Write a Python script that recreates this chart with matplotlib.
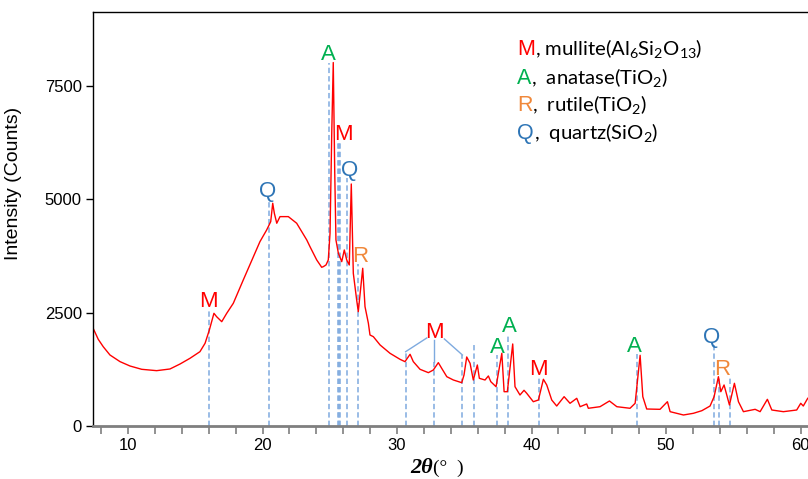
import matplotlib
matplotlib.use("Agg")
import matplotlib.pyplot as plt
from matplotlib.ticker import MultipleLocator

plt.rcParams['font.family'] = ['Liberation Sans', 'DejaVu Sans']
plt.rcParams['mathtext.fontset'] = 'custom'
plt.rcParams['mathtext.rm'] = 'Lato'
plt.rcParams['mathtext.it'] = 'Lato:italic'
plt.rcParams['mathtext.bf'] = 'Lato:bold'

# XRD pattern (2theta in degrees, intensity in counts)
two_theta = [7.41, 7.79, 8.16, 8.66, 9.41, 10.15, 11.02, 12.13, 13.12, 13.87,
             14.61, 15.35, 15.73, 16.05, 16.39, 16.59, 16.97, 17.34, 17.83, 18.57,
             19.32, 19.81, 20.31, 20.61, 20.76, 20.88, 21.06, 21.30, 21.92, 22.54,
             23.29, 23.53, 24.03, 24.40, 24.52, 24.72, 24.89, 25.02, 25.15, 25.26,
             25.37, 25.46, 25.64, 25.89, 26.08, 26.26, 26.45, 26.60, 26.75, 27.00,
             27.12, 27.32, 27.45, 27.62, 27.87, 27.99, 28.24, 28.74, 29.48, 30.22,
             30.59, 30.97, 31.21, 31.71, 32.33, 32.70, 33.07, 33.32, 33.70, 34.19,
             34.81, 34.98, 35.18, 35.43, 35.67, 35.87, 35.97, 36.12, 36.54, 36.79,
             36.97, 37.36, 37.79, 37.96, 38.20, 38.60, 38.77, 39.14, 39.44, 39.64,
             40.13, 40.51, 40.88, 41.13, 41.50, 41.87, 42.42, 42.86, 43.36, 43.61,
             44.10, 44.22, 45.09, 45.79, 46.34, 47.32, 47.70, 48.07, 48.27, 48.56,
             49.55, 50.10, 50.30, 51.29, 52.03, 52.66, 53.27, 53.57, 53.89, 54.07,
             54.31, 54.71, 55.08, 55.38, 55.75, 56.62, 56.99, 57.53, 57.86, 58.72,
             59.71, 60.01, 60.20, 60.53]
counts = [2156, 1913, 1750, 1567, 1420, 1324, 1251, 1221, 1258, 1368,
          1494, 1640, 1825, 2119, 2487, 2412, 2302, 2487, 2708, 3222,
          3736, 4068, 4326, 4509, 4915, 4694, 4474, 4620, 4620, 4474,
          4105, 3957, 3664, 3502, 3516, 3553, 3664, 4252, 6500, 8020,
          5584, 4105, 3811, 3627, 3884, 3664, 3553, 5340, 3370, 2781,
          2523, 3100, 3480, 2633, 2267, 2008, 1971, 1788, 1604, 1472,
          1420, 1582, 1420, 1251, 1177, 1236, 1398, 1273, 1088, 1015,
          956, 1126, 1523, 1383, 1015, 1236, 1346, 1052, 1015, 1104,
          978, 867, 1604, 757, 757, 1810, 867, 684, 788, 722,
          536, 574, 1031, 905, 574, 441, 647, 501, 611, 426,
          486, 391, 426, 552, 426, 391, 501, 1560, 647, 375,
          368, 536, 316, 243, 280, 338, 441, 647, 1088, 757,
          905, 464, 942, 536, 316, 368, 316, 589, 353, 316,
          353, 501, 441, 611]

# Reference-line positions (dashed) and their top heights
ref_pos = [16.06, 20.48, 24.94, 25.60, 25.67, 25.77, 26.26, 27.08, 30.64, 32.78,
           34.86, 35.72, 37.41, 38.23, 40.56, 47.85, 53.53, 53.94, 54.74]
ref_top = [2560, 4988, 8000, 6268, 6268, 6268, 5473, 3575, 1640, 1419,
           1567, 1832, 1567, 2030, 1059, 1589, 1788, 1059, 1059]

# Phase labels
lab_text = ['M', 'Q', 'A', 'M', 'Q', 'R', 'M', 'A', 'A', 'M', 'A', 'Q', 'R']
lab_x = [16.0, 20.4, 24.9, 26.0, 26.5, 27.25, 32.75, 37.43, 38.33, 40.48, 47.62, 53.35, 54.2]
lab_y = [2615, 5054, 8077, 6312, 5517, 3619, 1942, 1611, 2075, 1126, 1633, 1832, 1126]

# Connector lines from the grouped M label
conn_from_x = [32.21, 32.78, 33.52]
conn_from_y = [1942, 1898, 1920]
conn_to_x = [30.64, 32.78, 34.86]
conn_to_y = [1640, 1419, 1567]

phase_colors = {'M': '#ff0000', 'A': '#00b050', 'R': '#f0883a', 'Q': '#2e75b6'}
legend_letters = ['M', 'A', 'R', 'Q']
legend_texts = [r', mullite(Al$_6$Si$_2$O$_{13}$)', r',  anatase(TiO$_2$)',
                r',  rutile(TiO$_2$)', r',  quartz(SiO$_2$)']

W, H = 808, 479
fig = plt.figure(figsize=(W / 100, H / 100), dpi=100)
ax = fig.add_axes([93 / W, 53 / H, 715 / W, 414 / H])

ref_col = '#7eaadf'
for xp, top in zip(ref_pos, ref_top):
    ax.plot([xp, xp], [0, top], color=ref_col, lw=1.1, ls=(0, (3.5, 2)), zorder=1)
for x0, y0, x1, y1 in zip(conn_from_x, conn_from_y, conn_to_x, conn_to_y):
    ax.plot([x0, x1], [y0, y1], color=ref_col, lw=1.0, zorder=1)

ax.plot(two_theta, counts, color='#ff0000', lw=1.0, zorder=2)

for t, x, y in zip(lab_text, lab_x, lab_y):
    ax.text(x, y, t, color=phase_colors[t], fontsize=16, ha='center', va='baseline', zorder=3)

ax.set_xlim(7.4, 60.55)
ax.set_ylim(0, 9135)
ax.xaxis.set_major_locator(MultipleLocator(10))
ax.xaxis.set_minor_locator(MultipleLocator(2))
ax.set_yticks([0, 2500, 5000, 7500])
ax.tick_params(axis='x', which='both', direction='out', length=6, width=1.2,
               color='#7f7f7f', labelsize=12, pad=3)
ax.tick_params(axis='y', direction='out', length=5, width=1, labelsize=12, pad=3)
ax.spines['right'].set_visible(False)
ax.spines['bottom'].set_color('#7f7f7f')
ax.spines['bottom'].set_linewidth(2)
ax.spines['left'].set_linewidth(1)
ax.spines['top'].set_linewidth(1)

ax.set_ylabel('Intensity (Counts)', fontsize=14)
ax.yaxis.set_label_coords(-0.099, 0.587)

fig.text(410 / W, 1 - 473 / H, '2θ', fontsize=16, family='Liberation Serif',
         style='italic', weight='bold', va='baseline', ha='left')
fig.text(433 / W, 1 - 473 / H, '(°  )', fontsize=14, family='Liberation Serif',
         va='baseline', ha='left')

leg_y = [55, 84, 111, 139]
for letter, txt, yb in zip(legend_letters, legend_texts, leg_y):
    t = fig.text(517 / W, 1 - yb / H, letter, color=phase_colors[letter], fontsize=15.5,
                 va='baseline', ha='left')
    ax.annotate(txt, xy=(1, 0), xycoords=t, va='bottom', ha='left', fontsize=14.6,
                family='Lato', color='black', annotation_clip=False)

fig.savefig('out.png', dpi=100)
